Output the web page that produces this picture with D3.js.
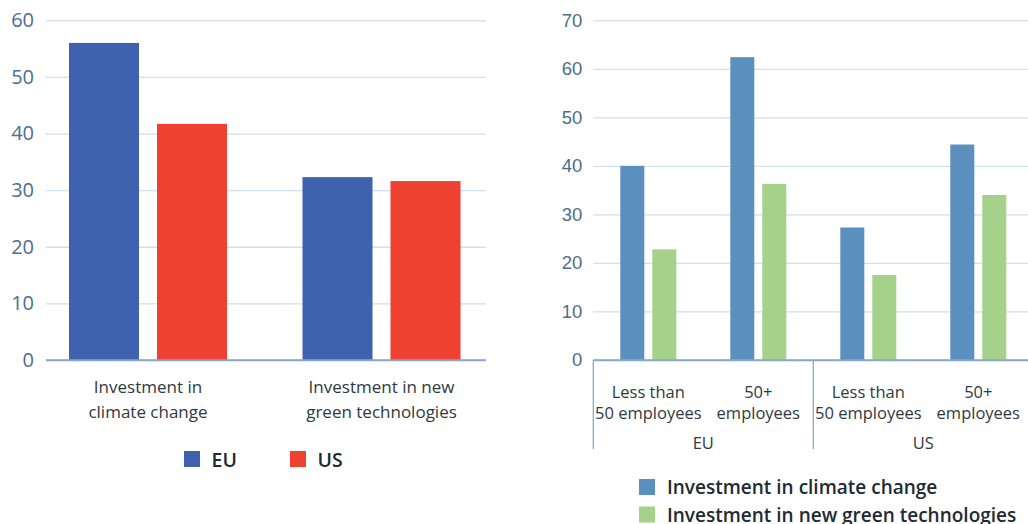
<!DOCTYPE html>
<html>
<head>
<meta charset="utf-8">
<script src="https://cdn.jsdelivr.net/npm/d3@7/dist/d3.min.js"></script>
<style>
  html, body { margin: 0; padding: 0; background: #ffffff; }
  svg { display: block; font-family: "Open Sans", "Noto Sans", sans-serif; }
</style>
</head>
<body>
<svg id="chart" width="1028" height="524"></svg>
<script>
// ---- Left panel: share of firms investing, EU vs US ----
const leftCategories = [
  ["Investment in", "climate change"],
  ["Investment in new", "green technologies"]
];
const leftSeries = ["EU", "US"];
const leftEU = [56.0, 32.3];
const leftUS = [41.7, 31.6];
const leftTicks = [0, 10, 20, 30, 40, 50, 60];

// ---- Right panel: by firm size ----
const rightRegions = ["EU", "US"];
const rightSizes = [["Less than", "50 employees"], ["50+", "employees"]];
const rightSeries = ["Investment in climate change", "Investment in new green technologies"];
const rightClimate = [40.0, 62.4, 27.3, 44.4];
const rightGreen = [22.8, 36.3, 17.5, 34.0];
const rightTicks = [0, 10, 20, 30, 40, 50, 60, 70];

const C = {
  eu: "#3e62ad",
  us: "#ee412f",
  climate: "#5a8fbe",
  green: "#a6d18b",
  grid: "#cfe0ee",
  axis: "#86a9cf",
  tick: "#4d6e8d",
  text: "#2f3942",
  legend: "#222a31"
};

const svg = d3.select("#chart");

// ================= Left panel =================
{
  const x0 = 46, x1 = 486, yTop = 20.3, yBase = 360;
  const y = d3.scaleLinear().domain([0, 60]).range([yBase, yTop]);

  const g = svg.append("g");
  const grid = g.append("g")
    .attr("transform", `translate(${x0},0)`)
    .call(d3.axisLeft(y).tickValues(leftTicks).tickSize(-(x1 - x0)).tickPadding(12));
  grid.select(".domain").remove();
  grid.selectAll(".tick line").attr("stroke", d => d === 0 ? C.axis : C.grid).attr("stroke-width", 1.3);
  grid.selectAll(".tick text")
    .attr("fill", C.tick).style("font-size", "20px").style("font-family", "Open Sans, sans-serif");

  const groups = leftCategories.map((d, i) => i);
  const xg = d3.scaleBand().domain(groups).range([31.25, 498.25]);
  const xs = d3.scaleBand().domain(leftSeries)
    .range([xg.bandwidth() / 2 - 79, xg.bandwidth() / 2 + 79]).paddingInner(0.2045);

  const values = { EU: leftEU, US: leftUS };
  const colors = { EU: C.eu, US: C.us };
  const bars = [];
  groups.forEach(i => leftSeries.forEach(s => bars.push({ i, s, v: values[s][i] })));

  g.selectAll("rect.bar").data(bars).join("rect")
    .attr("class", "bar")
    .attr("x", d => xg(d.i) + xs(d.s))
    .attr("width", xs.bandwidth())
    .attr("y", d => y(d.v))
    .attr("height", d => y(0) - y(d.v))
    .attr("fill", d => colors[d.s]);

  // baseline over the bars
  g.append("line").attr("x1", x0).attr("x2", x1).attr("y1", yBase).attr("y2", yBase)
    .attr("stroke", C.axis).attr("stroke-width", 1.3);

  // category labels
  const lab = g.selectAll("text.cat").data(leftCategories).join("text")
    .attr("class", "cat")
    .attr("text-anchor", "middle")
    .attr("fill", C.text)
    .style("font-size", "17px");
  lab.each(function (lines, i) {
    const cx = xg(i) + xg.bandwidth() / 2;
    d3.select(this).selectAll("tspan").data(lines).join("tspan")
      .attr("x", cx).attr("y", (d, k) => 392.5 + k * 25).text(d => d);
  });

  // legend
  const legX = [184, 290];
  const leg = g.selectAll("g.leg").data(leftSeries).join("g")
    .attr("class", "leg")
    .attr("transform", (d, i) => `translate(${legX[i]},451)`);
  leg.append("rect").attr("width", 16).attr("height", 16).attr("fill", d => colors[d]);
  leg.append("text").attr("x", 27.5).attr("y", 15.5)
    .attr("fill", C.legend).style("font-size", "19.5px").style("font-weight", "600")
    .text(d => d);
}

// ================= Right panel =================
{
  const x0 = 593.3, yTop = 20.3, yBase = 360;
  const y = d3.scaleLinear().domain([0, 70]).range([yBase, yTop]);
  const cells = [];
  rightRegions.forEach((r, ri) => rightSizes.forEach((s, si) => cells.push({ r, ri, s, si, k: ri * 2 + si })));
  const xc = d3.scaleBand().domain(cells.map(d => d.k)).range([x0, x0 + 440]);
  const xs = d3.scaleBand().domain(rightSeries)
    .range([xc.bandwidth() / 2 - 28, xc.bandwidth() / 2 + 28]).paddingInner(0.25);

  const g = svg.append("g");
  const grid = g.append("g")
    .attr("transform", `translate(${x0},0)`)
    .call(d3.axisLeft(y).tickValues(rightTicks).tickSize(-(1028 - x0)).tickPadding(11));
  grid.select(".domain").remove();
  grid.selectAll(".tick line").attr("stroke", d => d === 0 ? C.axis : C.grid).attr("stroke-width", 1.3);
  grid.selectAll(".tick text")
    .attr("fill", C.tick).style("font-size", "18.5px");

  const colors = [C.climate, C.green];
  const vals = [rightClimate, rightGreen];
  const bars = [];
  cells.forEach(c => rightSeries.forEach((s, j) => bars.push({ k: c.k, s, j, v: vals[j][c.k] })));

  g.selectAll("rect.bar").data(bars).join("rect")
    .attr("class", "bar")
    .attr("x", d => xc(d.k) + xs(d.s))
    .attr("width", xs.bandwidth())
    .attr("y", d => y(d.v))
    .attr("height", d => y(0) - y(d.v))
    .attr("fill", d => colors[d.j]);

  g.append("line").attr("x1", x0).attr("x2", 1028).attr("y1", yBase).attr("y2", yBase)
    .attr("stroke", C.axis).attr("stroke-width", 1.3);

  // region separators
  const regionEdges = [0, 2, 4].map(k => k < 4 ? xc(k) : xc(3) + xc.bandwidth());
  g.selectAll("line.sep").data(regionEdges).join("line")
    .attr("class", "sep")
    .attr("x1", d => d).attr("x2", d => d)
    .attr("y1", yBase).attr("y2", 449)
    .attr("stroke", C.axis).attr("stroke-width", 1.3);

  // firm-size labels
  g.selectAll("text.size").data(cells).join("text")
    .attr("class", "size")
    .attr("text-anchor", "middle")
    .attr("fill", C.text)
    .style("font-size", "16.5px")
    .each(function (c) {
      const cx = xc(c.k) + xc.bandwidth() / 2;
      d3.select(this).selectAll("tspan").data(c.s).join("tspan")
        .attr("x", cx).attr("y", (d, k) => 397.5 + k * 21).text(d => d);
    });

  // region labels
  g.selectAll("text.region").data(rightRegions).join("text")
    .attr("class", "region")
    .attr("text-anchor", "middle")
    .attr("fill", C.text)
    .style("font-size", "16.5px")
    .attr("x", (d, i) => (regionEdges[i] + regionEdges[i + 1]) / 2)
    .attr("y", 449)
    .text(d => d);

  // legend
  const leg = g.selectAll("g.leg").data(rightSeries).join("g")
    .attr("class", "leg")
    .attr("transform", (d, i) => `translate(639,${479 + i * 27.5})`);
  leg.append("rect").attr("width", 16).attr("height", 16).attr("fill", (d, i) => colors[i]);
  leg.append("text").attr("x", 28).attr("y", 15)
    .attr("fill", C.legend).style("font-size", "19px").style("font-weight", "600")
    .text(d => d);
}
</script>
</body>
</html>
